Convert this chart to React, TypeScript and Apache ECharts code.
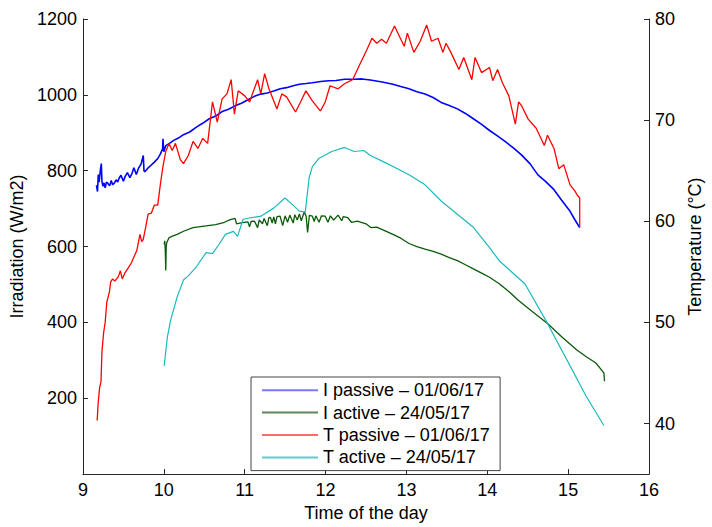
import React, { useEffect, useRef } from "react";
import * as echarts from "echarts";

const xTicks = [9, 10, 11, 12, 13, 14, 15, 16];
const leftTicks = [200, 400, 600, 800, 1000, 1200];
const rightTicks = [40, 50, 60, 70, 80];

const seriesNames = [
  "I passive \u2013 01/06/17",
  "I active \u2013 24/05/17",
  "T passive \u2013 01/06/17",
  "T active \u2013 24/05/17",
];

// Irradiation, passive (W/m2)
const iPassive: [number, number][] = [
  [9.167, 762], [9.18, 745], [9.19, 790], [9.2, 770], [9.215, 800], [9.227, 819], [9.235, 772],
  [9.247, 759], [9.26, 768], [9.275, 755], [9.29, 770], [9.307, 767], [9.33, 760], [9.35, 774],
  [9.367, 763], [9.39, 768], [9.41, 776], [9.43, 770], [9.447, 780], [9.47, 788], [9.5, 772],
  [9.522, 785], [9.55, 795], [9.58, 782], [9.607, 793], [9.63, 808], [9.66, 790], [9.686, 806],
  [9.72, 818], [9.746, 840], [9.755, 800], [9.765, 797], [9.8, 806], [9.845, 815], [9.88, 822],
  [9.925, 832], [9.96, 845], [9.985, 858], [9.99, 884], [10.0, 850], [10.024, 866], [10.07, 872],
  [10.123, 880], [10.18, 886], [10.243, 895], [10.32, 902], [10.403, 915], [10.48, 925],
  [10.562, 937], [10.64, 944], [10.721, 956], [10.8, 962], [10.881, 971], [10.96, 978],
  [11.04, 987], [11.12, 996], [11.199, 1002], [11.28, 1005], [11.359, 1010], [11.44, 1016],
  [11.518, 1019], [11.6, 1024], [11.677, 1028], [11.76, 1030], [11.837, 1032], [11.94, 1035],
  [12.036, 1037], [12.13, 1038], [12.235, 1041], [12.355, 1041], [12.45, 1042], [12.554, 1039],
  [12.7, 1034], [12.833, 1028], [12.93, 1022], [13.032, 1016], [13.13, 1008], [13.231, 1002],
  [13.33, 993], [13.43, 980], [13.53, 972], [13.63, 963], [13.73, 951], [13.828, 937],
  [13.93, 922], [14.028, 906], [14.13, 891], [14.228, 876], [14.33, 859], [14.426, 841],
  [14.53, 818], [14.626, 789], [14.72, 772], [14.825, 750], [14.92, 722], [15.024, 693],
  [15.08, 672], [15.143, 650],
];

// Irradiation, active (W/m2)
const iActive: [number, number][] = [
  [10.004, 606], [10.012, 615], [10.018, 590], [10.024, 537], [10.03, 600], [10.036, 610],
  [10.064, 623], [10.1, 627], [10.164, 632], [10.25, 641], [10.362, 650], [10.5, 654],
  [10.642, 658], [10.75, 664], [10.821, 671], [10.881, 674], [10.9, 660], [10.97, 663],
  [11.04, 665], [11.06, 652], [11.08, 666], [11.12, 667], [11.16, 650], [11.18, 670],
  [11.22, 660], [11.24, 674], [11.28, 655], [11.3, 676], [11.319, 677], [11.34, 662],
  [11.36, 678], [11.38, 660], [11.4, 679], [11.438, 680], [11.47, 655], [11.5, 681],
  [11.53, 664], [11.558, 683], [11.6, 662], [11.62, 684], [11.65, 670], [11.677, 686],
  [11.7, 668], [11.737, 691], [11.76, 680], [11.778, 637], [11.8, 682], [11.837, 680],
  [11.86, 666], [11.88, 681], [11.92, 664], [11.95, 681], [11.996, 680], [12.03, 664],
  [12.06, 681], [12.1, 670], [12.155, 683], [12.2, 668], [12.22, 679], [12.275, 676],
  [12.32, 664], [12.394, 667], [12.5, 660], [12.56, 650], [12.633, 651], [12.73, 642],
  [12.833, 632], [12.93, 622], [13.032, 608], [13.13, 600], [13.231, 593], [13.33, 587],
  [13.43, 580], [13.53, 571], [13.63, 563], [13.73, 552], [13.828, 541], [13.93, 530],
  [14.028, 519], [14.148, 502], [14.27, 481], [14.387, 458], [14.56, 428], [14.745, 397],
  [14.92, 362], [15.104, 328], [15.22, 310], [15.343, 293], [15.442, 267], [15.45, 245],
];

// Temperature, passive (°C)
const tPassive: [number, number][] = [
  [9.176, 40.3], [9.188, 42.0], [9.207, 43.6], [9.223, 44.1], [9.235, 47.1], [9.256, 49.0],
  [9.275, 50.0], [9.295, 52.0], [9.327, 53.0], [9.343, 54.0], [9.367, 54.3], [9.396, 54.1],
  [9.436, 54.5], [9.463, 55.1], [9.486, 54.3], [9.52, 54.9], [9.56, 55.4], [9.6, 55.9],
  [9.626, 56.4], [9.666, 57.1], [9.705, 58.7], [9.726, 58.0], [9.746, 58.2], [9.78, 59.6],
  [9.806, 60.7], [9.845, 60.8], [9.884, 61.6], [9.925, 61.6], [9.955, 63.5], [9.985, 65.2],
  [10.024, 66.9], [10.064, 67.7], [10.104, 67.0], [10.144, 67.7], [10.204, 66.1],
  [10.243, 65.7], [10.303, 66.5], [10.362, 67.9], [10.422, 67.2], [10.482, 68.2],
  [10.542, 67.7], [10.602, 71.8], [10.661, 69.8], [10.721, 72.1], [10.781, 72.6],
  [10.833, 74.0], [10.873, 70.6], [10.92, 72.9], [11.001, 72.4], [11.06, 71.8], [11.16, 74.0],
  [11.199, 72.6], [11.247, 74.6], [11.3, 73.1], [11.399, 71.1], [11.459, 72.6], [11.518, 72.3],
  [11.629, 70.8], [11.697, 71.9], [11.757, 72.9], [11.837, 71.9], [11.937, 70.9],
  [11.996, 71.8], [12.056, 73.4], [12.155, 73.1], [12.235, 73.6], [12.335, 74.0],
  [12.435, 75.7], [12.514, 77.0], [12.574, 78.1], [12.633, 77.6], [12.693, 78.0],
  [12.753, 77.6], [12.853, 79.3], [12.913, 78.3], [12.973, 77.3], [13.012, 78.6],
  [13.092, 76.7], [13.171, 77.8], [13.251, 79.4], [13.311, 77.8], [13.391, 78.1],
  [13.451, 76.7], [13.49, 77.6], [13.55, 76.7], [13.649, 75.0], [13.709, 76.2], [13.809, 74.0],
  [13.849, 76.2], [13.929, 74.7], [14.028, 75.2], [14.068, 73.9], [14.127, 75.0],
  [14.187, 73.7], [14.267, 72.4], [14.347, 69.6], [14.387, 71.8], [14.426, 71.4],
  [14.506, 70.1], [14.605, 69.2], [14.706, 67.5], [14.745, 68.5], [14.825, 67.2],
  [14.885, 65.2], [14.945, 65.6], [15.024, 63.6], [15.083, 63.0], [15.112, 62.6],
  [15.143, 62.3], [15.143, 59.4],
];

// Temperature, active (°C)
const tActive: [number, number][] = [
  [10.004, 45.7], [10.045, 48.6], [10.084, 50.2], [10.164, 52.5], [10.243, 54.2], [10.303, 54.6],
  [10.403, 55.5], [10.523, 56.9], [10.602, 56.8], [10.682, 57.7], [10.762, 58.7], [10.861, 59.0],
  [10.912, 58.5], [10.98, 60.2], [11.04, 60.3], [11.199, 60.5], [11.359, 61.3], [11.498, 62.3],
  [11.598, 61.6], [11.677, 61.0], [11.749, 60.9], [11.797, 64.3], [11.837, 65.4], [11.916, 66.2],
  [12.076, 66.9], [12.235, 67.3], [12.355, 66.9], [12.474, 67.0], [12.554, 66.5], [12.713, 65.9],
  [12.913, 65.1], [13.032, 64.6], [13.231, 63.6], [13.43, 62.0], [13.63, 60.7], [13.828, 59.4],
  [14.028, 57.4], [14.148, 56.1], [14.467, 53.8], [14.745, 49.9], [15.024, 45.7], [15.223, 42.7],
  [15.442, 39.8],
];

const FONT = "'Liberation Sans', Arial, Helvetica, sans-serif";
const FS = 18;
const AXIS_COLOR = "#262626";
const plain = (v: number) => String(v);

export default function App() {
  const ref = useRef<HTMLDivElement>(null);
  useEffect(() => {
    if (!ref.current) return;
    const chart = echarts.init(ref.current, undefined, { renderer: "svg" });
    const lineSeries = (name: string, data: [number, number][], color: string, width: number, yAxisIndex: number) => ({
      name,
      type: "line",
      data,
      yAxisIndex,
      symbol: "none",
      showSymbol: false,
      lineStyle: { color, width },
      itemStyle: { color },
      silent: true,
    });
    chart.setOption({
      animation: false,
      textStyle: { fontFamily: FONT },
      grid: { left: 79, right: 47, top: 19, bottom: 48 },
      xAxis: {
        type: "value",
        min: 9,
        max: 16,
        interval: 1,
        name: "Time of the day",
        nameLocation: "middle",
        nameGap: 28,
        nameTextStyle: { fontSize: FS, color: "#000", fontFamily: FONT },
        axisLine: { lineStyle: { color: AXIS_COLOR, width: 1 } },
        axisTick: { inside: true, length: 5, lineStyle: { color: AXIS_COLOR }, customValues: xTicks },
        axisLabel: { fontSize: FS, color: "#000", margin: 7, fontFamily: FONT, customValues: xTicks, formatter: plain },
        splitLine: { show: false },
      },
      yAxis: [
        {
          type: "value",
          min: 0,
          max: 1200,
          interval: 200,
          position: "left",
          name: "Irradiation (W/m2)",
          nameLocation: "middle",
          nameGap: 53,
          nameTextStyle: { fontSize: FS, color: "#000", fontFamily: FONT },
          axisLine: { show: true, lineStyle: { color: AXIS_COLOR, width: 1 } },
          axisTick: { show: true, inside: true, length: 5, lineStyle: { color: AXIS_COLOR }, customValues: leftTicks },
          axisLabel: { fontSize: FS, color: "#000", margin: 6, fontFamily: FONT, customValues: leftTicks, formatter: plain },
          splitLine: { show: false },
        },
        {
          type: "value",
          min: 35,
          max: 80,
          interval: 5,
          position: "right",
          name: "Temperature (\u00B0C)",
          nameLocation: "middle",
          nameGap: 37,
          nameTextStyle: { fontSize: FS, color: "#000", fontFamily: FONT },
          axisLine: { show: true, lineStyle: { color: AXIS_COLOR, width: 1 } },
          axisTick: { show: true, inside: true, length: 5, lineStyle: { color: AXIS_COLOR }, customValues: rightTicks },
          axisLabel: { fontSize: FS, color: "#000", margin: 6, fontFamily: FONT, customValues: rightTicks, formatter: plain },
          splitLine: { show: false },
        },
      ],
      legend: {
        orient: "vertical",
        left: 251,
        top: 377,
        padding: [2, 10, 2, 11],
        icon: "rect",
        itemWidth: 56,
        itemHeight: 2,
        itemGap: 0,
        backgroundColor: "#fff",
        borderColor: "#444",
        borderWidth: 1,
        selectedMode: false,
        textStyle: { fontSize: FS, color: "#000", lineHeight: 22.4, fontFamily: FONT },
        data: [
          { name: seriesNames[0], itemStyle: { color: "#7a7aff" } },
          { name: seriesNames[1], itemStyle: { color: "#5a8a5a" } },
          { name: seriesNames[2], itemStyle: { color: "#ff6a6a" } },
          { name: seriesNames[3], itemStyle: { color: "#5ecccc" } },
        ],
      },
      series: [
        lineSeries(seriesNames[0], iPassive, "#0000ff", 1.6, 0),
        lineSeries(seriesNames[1], iActive, "#0b5a0b", 1.3, 0),
        lineSeries(seriesNames[2], tPassive, "#ff0000", 1.3, 1),
        lineSeries(seriesNames[3], tActive, "#1cbaba", 1.2, 1),
      ],
    });
    return () => chart.dispose();
  }, []);
  return <div ref={ref} style={{ position: "absolute", left: 0, top: 0, width: 712, height: 527 }} />;
}
